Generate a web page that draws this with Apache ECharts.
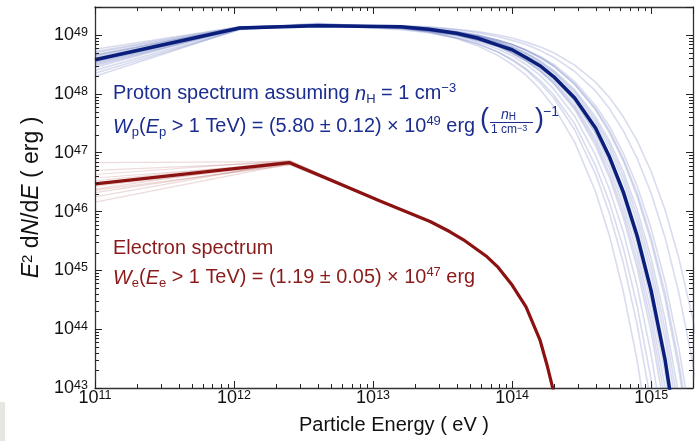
<!DOCTYPE html>
<html><head><meta charset="utf-8">
<script src="https://cdn.jsdelivr.net/npm/echarts@6/dist/echarts.min.js"></script>
<style>html,body{margin:0;padding:0;background:#fff}#c{width:700px;height:441px}</style>
</head><body><div id="c"></div>
<script>
// ---------- data (log10 values) ----------
const xMajorTicks = [1e11, 1e12, 1e13, 1e14, 1e15];
const yMajorTicks = [1e43, 1e44, 1e45, 1e46, 1e47, 1e48, 1e49];
const xMinorTicks = [2e11,3e11,4e11,5e11,6e11,7e11,8e11,9e11,2e12,3e12,4e12,5e12,6e12,7e12,8e12,9e12,2e13,3e13,4e13,5e13,6e13,7e13,8e13,9e13,2e14,3e14,4e14,5e14,6e14,7e14,8e14,9e14];
const yMinorTicks = [2e43,3e43,4e43,5e43,6e43,7e43,8e43,9e43,2e44,3e44,4e44,5e44,6e44,7e44,8e44,9e44,2e45,3e45,4e45,5e45,6e45,7e45,8e45,9e45,2e46,3e46,4e46,5e46,6e46,7e46,8e46,9e46,2e47,3e47,4e47,5e47,6e47,7e47,8e47,9e47,2e48,3e48,4e48,5e48,6e48,7e48,8e48,9e48];

// proton: log10(E/eV) grid and log10(E^2 dN/dE / erg)
const protonLogE = [11.0, 12.04, 12.6, 13.2, 13.4, 13.6, 13.75, 13.9, 14.0, 14.1, 14.2, 14.3, 14.45, 14.6, 14.7, 14.8, 14.9, 15.0, 15.1, 15.2, 15.3, 15.4];
const protonBest    = [48.58, 49.12, 49.16, 49.14, 49.10, 49.03, 48.95, 48.83, 48.75, 48.62, 48.48, 48.29, 47.93, 47.42, 46.93, 46.33, 45.58, 44.65, 43.48, 41.95];
const protonSampleA = [48.45, 49.12, 49.20, 49.115, 49.05, 48.94, 48.82, 48.65, 48.50, 48.32, 48.08, 47.78, 47.18, 46.34, 45.59, 44.64, 43.46, 41.96];
const protonSampleB = [48.70, 49.13, 49.17, 49.09, 49.04, 48.95, 48.85, 48.71, 48.59, 48.43, 48.23, 47.98, 47.49, 46.78, 46.16, 45.38, 44.39, 43.14, 41.58];
const protonSampleC = [48.30, 49.10, 49.19, 49.14, 49.09, 49.01, 48.92, 48.80, 48.69, 48.56, 48.39, 48.17, 47.74, 47.12, 46.58, 45.90, 45.04, 43.95, 42.59];
const protonSampleD = [48.62, 49.11, 49.17, 49.12, 49.08, 49.00, 48.92, 48.81, 48.71, 48.58, 48.42, 48.22, 47.81, 47.24, 46.74, 46.10, 45.30, 44.28, 43.01, 41.41];
const protonSampleE = [48.52, 49.12, 49.18, 49.14, 49.10, 49.04, 48.97, 48.87, 48.78, 48.67, 48.53, 48.36, 48.00, 47.51, 47.07, 46.51, 45.81, 44.93, 43.83, 42.43];
const protonSampleF = [48.76, 49.14, 49.17, 49.14, 49.10, 49.04, 48.98, 48.88, 48.80, 48.70, 48.57, 48.40, 48.07, 47.61, 47.20, 46.68, 46.03, 45.21, 44.17, 42.87, 41.23];
const protonSampleG = [48.40, 49.10, 49.16, 49.13, 49.10, 49.05, 48.99, 48.91, 48.84, 48.75, 48.64, 48.50, 48.21, 47.80, 47.45, 46.99, 46.43, 45.71, 44.81, 43.67, 42.24];
const protonSampleH = [48.66, 49.13, 49.17, 49.15, 49.13, 49.09, 49.04, 48.97, 48.91, 48.84, 48.74, 48.62, 48.38, 48.05, 47.75, 47.37, 46.90, 46.31, 45.56, 44.61, 43.42, 41.93];
const protonSampleI = [48.55, 49.12, 49.17, 49.16, 49.14, 49.10, 49.06, 49.00, 48.95, 48.88, 48.80, 48.70, 48.49, 48.20, 47.94, 47.61, 47.20, 46.68, 46.03, 45.20, 44.17, 42.86];
const protonSampleJ = [48.35, 49.09, 49.18, 49.12, 49.06, 48.96, 48.86, 48.71, 48.57, 48.41, 48.19, 47.93, 47.39, 46.64, 45.97, 45.13, 44.07, 42.74];
const protonSampleK = [48.48, 49.11, 49.18, 49.15, 49.12, 49.06, 49.00, 48.91, 48.84, 48.74, 48.62, 48.47, 48.16, 47.73, 47.34, 46.86, 46.25, 45.48, 44.52, 43.30, 41.77];
const protonSampleL = [48.72, 49.14, 49.16, 49.11, 49.06, 49.00, 48.92, 48.82, 48.72, 48.60, 48.45, 48.27, 47.89, 47.35, 46.88, 46.29, 45.54, 44.59, 43.41, 41.91];
const protonSampleM = [48.60, 49.12, 49.18, 49.12, 49.07, 48.99, 48.89, 48.76, 48.65, 48.50, 48.32, 48.08, 47.62, 46.96, 46.38, 45.65, 44.73, 43.57, 42.11];
const protonSampleN = [48.50, 49.11, 49.17, 49.12, 49.07, 49.00, 48.91, 48.80, 48.69, 48.56, 48.39, 48.19, 47.77, 47.18, 46.65, 45.99, 45.16, 44.11, 42.80];
const protonSampleO = [48.66, 49.13, 49.17, 49.13, 49.09, 49.02, 48.94, 48.83, 48.74, 48.61, 48.46, 48.26, 47.87, 47.32, 46.83, 46.22, 45.44, 44.46, 43.24, 41.69];
const protonSampleQ = [48.54, 49.12, 49.17, 49.13, 49.09, 49.02, 48.95, 48.85, 48.76, 48.64, 48.50, 48.32, 47.95, 47.44, 46.98, 46.40, 45.68, 44.77, 43.62, 42.18];
const protonSampleR = [48.64, 49.13, 49.18, 49.14, 49.11, 49.05, 48.98, 48.88, 48.80, 48.69, 48.55, 48.38, 48.04, 47.56, 47.14, 46.60, 45.92, 45.07, 44.00, 42.65];
const protonSampleS = [48.57, 49.12, 49.17, 49.14, 49.11, 49.06, 49.00, 48.91, 48.84, 48.74, 48.62, 48.47, 48.17, 47.75, 47.38, 46.90, 46.31, 45.56, 44.62, 43.43, 41.93];

// electron
const electronLogE = [11.0, 12.40, 12.69, 13.05, 13.41, 13.55, 13.65, 13.82, 13.9, 14.0, 14.1, 14.2, 14.25, 14.29, 14.35];
const electronBest = [46.47, 46.83, 46.54, 46.18, 45.83, 45.66, 45.52, 45.23, 45.05, 44.75, 44.38, 43.82, 43.40, 43.02, 42.40];
const electronSampleLogE = [11.0, 12.40, 12.69, 13.05];
const electronSampleA = [46.16, 46.81, 46.53, 46.17];
const electronSampleB = [46.25, 46.84, 46.55, 46.19];
const electronSampleC = [46.32, 46.82, 46.54, 46.18];
const electronSampleD = [46.38, 46.86, 46.56, 46.19];
const electronSampleE = [46.43, 46.80, 46.53, 46.17];
const electronSampleF = [46.52, 46.85, 46.55, 46.19];
const electronSampleG = [46.57, 46.82, 46.54, 46.17];
const electronSampleH = [46.63, 46.87, 46.56, 46.19];
const electronSampleI = [46.70, 46.84, 46.55, 46.18];
const electronSampleJ = [46.83, 46.85, 46.54, 46.18];
const electronSampleK = [46.36, 46.79, 46.52, 46.17];
const electronSampleL = [46.45, 46.83, 46.54, 46.18];

// ---------- chart ----------
const FONT = "'Liberation Sans', Arial, Helvetica, sans-serif";
const P_LINE = '#0a1f7c';
const E_LINE = '#8c1212';
const P_TEXT = '#1b2d8e';
const E_TEXT = '#8b1a1a';
const AX = '#333';
const TICK = '#222';

const toPairs = (xs, ys) => ys.map((y, i) => [Math.pow(10, xs[i]), Math.pow(10, y)]);

const protonSamples = [protonSampleA, protonSampleB, protonSampleC, protonSampleD, protonSampleE, protonSampleF,
  protonSampleG, protonSampleH, protonSampleI, protonSampleJ, protonSampleK, protonSampleL,
  protonSampleM, protonSampleN, protonSampleO, protonSampleQ, protonSampleR, protonSampleS];
const electronSamples = [electronSampleA, electronSampleB, electronSampleC, electronSampleD, electronSampleE, electronSampleF,
  electronSampleG, electronSampleH, electronSampleI, electronSampleJ, electronSampleK, electronSampleL];

const labelRich = {
  b: {fontSize: 18, lineHeight: 18, fontFamily: FONT, color: '#111'},
  s: {fontSize: 12.5, lineHeight: 6, verticalAlign: 'top', fontFamily: FONT, color: '#111'}
};
const powFmt = v => '{b|10}{s|' + Math.round(Math.log10(v)) + '}';

const X_MIN = 1e11, X_MAX = 2e15, Y_MIN = 1e43, Y_MAX = 3e49;

function dataX(pos, withLabel) {
  return {
    type: 'log', logBase: 10, gridIndex: 0, position: pos, min: X_MIN, max: X_MAX, splitNumber: 5,
    axisLine: {show: true, lineStyle: {color: AX, width: 1.3}},
    axisTick: {show: true, inside: true, length: 7, lineStyle: {color: TICK, width: 1}},
    axisLabel: withLabel ? {show: true, customValues: xMajorTicks, formatter: powFmt, rich: labelRich, margin: 1} : {show: false},
    splitLine: {show: false}, minorTick: {show: false}
  };
}
function dataY(pos, withLabel) {
  return {
    type: 'log', logBase: 10, gridIndex: 0, position: pos, min: Y_MIN, max: Y_MAX, splitNumber: 6,
    axisLine: {show: true, lineStyle: {color: AX, width: 1.3}},
    axisTick: {show: true, inside: true, length: 7, lineStyle: {color: TICK, width: 1}},
    axisLabel: withLabel ? {show: true, customValues: yMajorTicks, formatter: powFmt, rich: labelRich, margin: 7} : {show: false},
    splitLine: {show: false}, minorTick: {show: false}
  };
}

// minor tick marks placed through the axes' own scales
function minorTickSeries(values, dir, side) {
  return {
    type: 'custom', xAxisIndex: 0, yAxisIndex: 0, silent: true, z: 10, clip: false,
    data: values.map(v => dir === 'x' ? [v, side === 'min' ? Y_MIN : Y_MAX] : [side === 'min' ? X_MIN : X_MAX, v]),
    renderItem: (params, api) => {
      const p = api.coord([api.value(0), api.value(1)]);
      let x1 = p[0], y1 = p[1];
      if (dir === 'x') x1 = Math.round(x1) + 0.5; else y1 = Math.round(y1) + 0.5;
      let x2 = x1, y2 = y1;
      if (dir === 'x') y2 += side === 'min' ? -4 : 4; else x2 += side === 'min' ? 4 : -4;
      return {type: 'line', shape: {x1, y1, x2, y2}, style: {stroke: TICK, lineWidth: 1}};
    }
  };
}

const xBottom = dataX('bottom', true);
xBottom.name = 'Particle Energy ( eV )';
xBottom.nameLocation = 'middle';
xBottom.nameGap = 27;
xBottom.nameTextStyle = {fontSize: 20, fontFamily: FONT, color: '#111'};

const yLeft = dataY('left', true);
yLeft.name = '{i|E}{sp|2} d{i|N}/d{i|E} ( erg )';
yLeft.nameLocation = 'middle';
yLeft.nameGap = 48;
yLeft.nameTextStyle = {
  fontSize: 23, fontFamily: FONT, color: '#111',
  rich: {
    i: {fontSize: 23, fontStyle: 'italic', fontFamily: FONT, color: '#111'},
    sp: {fontSize: 15, lineHeight: 8, verticalAlign: 'top', fontFamily: FONT, color: '#111'}
  }
};

const series = [];
protonSamples.forEach(s => series.push({
  type: 'line', xAxisIndex: 0, yAxisIndex: 0, data: toPairs(protonLogE, s), symbol: 'none', clip: true,
  lineStyle: {color: 'rgba(60,80,170,0.2)', width: 1.6}, z: 2, silent: true
}));
electronSamples.forEach(s => series.push({
  type: 'line', xAxisIndex: 0, yAxisIndex: 0, data: toPairs(electronSampleLogE, s), symbol: 'none', clip: true,
  lineStyle: {color: 'rgba(150,30,30,0.16)', width: 1.2}, z: 2, silent: true
}));
series.push({
  type: 'line', name: 'Proton', xAxisIndex: 0, yAxisIndex: 0, data: toPairs(protonLogE, protonBest), symbol: 'none', clip: true,
  lineStyle: {color: P_LINE, width: 3.5}, z: 5, silent: true
});
series.push({
  type: 'line', name: 'Electron', xAxisIndex: 0, yAxisIndex: 0, data: toPairs(electronLogE, electronBest), symbol: 'none', clip: true,
  lineStyle: {color: E_LINE, width: 3.2}, z: 5, silent: true
});
series.push(minorTickSeries(xMinorTicks, 'x', 'min'));
series.push(minorTickSeries(xMinorTicks, 'x', 'max'));
series.push(minorTickSeries(yMinorTicks, 'y', 'min'));
series.push(minorTickSeries(yMinorTicks, 'y', 'max'));

const T = 19.9;
const richText = (color) => ({
  i: {fontSize: T, fontStyle: 'italic', fontFamily: FONT, fill: color, lineHeight: 24},
  sub: {fontSize: 13, fontFamily: FONT, fill: color, lineHeight: 12, verticalAlign: 'bottom'},
  sup: {fontSize: 13, fontFamily: FONT, fill: color, lineHeight: 8, verticalAlign: 'top'}
});
const txt = (x, y, text, color) => ({
  type: 'text', left: x, top: y, z: 20, silent: true,
  style: {text, fontSize: T, fontFamily: FONT, fill: color, rich: richText(color), lineHeight: 24}
});

const option = {
  animation: false,
  backgroundColor: '#ffffff',
  grid: [{left: 95, right: 7, top: 7, bottom: 53}],
  xAxis: [xBottom, dataX('top', false)],
  yAxis: [yLeft, dataY('right', false)],
  series,
  graphic: [
    {type: 'rect', left: 0, top: 402, shape: {width: 5, height: 39}, style: {fill: '#e6e6e2'}, silent: true},
    txt(113, 82, 'Proton spectrum assuming {i|n}{sub|H} = 1 cm{sup|−3}', P_TEXT),
    txt(113, 115, '{i|W}{sub|p}({i|E}{sub|p} > 1 TeV) = (5.80 ± 0.12) × 10{sup|49} erg', P_TEXT),
    {type: 'text', left: 480, top: 106, z: 20, silent: true, style: {text: '(', fontSize: 27, fontFamily: FONT, fill: P_TEXT}},
    {type: 'text', left: 501, top: 108, z: 20, silent: true, style: {text: '{i|n}{s|H}', fontSize: 13, fontFamily: FONT, fill: P_TEXT,
      rich: {i: {fontSize: 14, fontStyle: 'italic', fontFamily: FONT, fill: P_TEXT, lineHeight: 14}, s: {fontSize: 10, fontFamily: FONT, fill: P_TEXT, lineHeight: 8, verticalAlign: 'bottom'}}}},
    {type: 'line', z: 20, silent: true, shape: {x1: 490, y1: 122.5, x2: 533, y2: 122.5}, style: {stroke: P_TEXT, lineWidth: 1}},
    {type: 'text', left: 491, top: 124, z: 20, silent: true, style: {text: '1 cm{s|−3}', fontSize: 12, fontFamily: FONT, fill: P_TEXT,
      rich: {s: {fontSize: 9, fontFamily: FONT, fill: P_TEXT, lineHeight: 6, verticalAlign: 'top'}}}},
    {type: 'text', left: 535, top: 106, z: 20, silent: true, style: {text: ')', fontSize: 27, fontFamily: FONT, fill: P_TEXT}},
    {type: 'text', left: 543, top: 105, z: 20, silent: true, style: {text: '−1', fontSize: 14, fontFamily: FONT, fill: P_TEXT}},
    txt(113, 237, 'Electron spectrum', E_TEXT),
    txt(113, 266, '{i|W}{sub|e}({i|E}{sub|e} > 1 TeV) = (1.19 ± 0.05) × 10{sup|47} erg', E_TEXT)
  ]
};

const chart = echarts.init(document.getElementById('c'), null, {renderer: 'canvas'});
chart.setOption(option);
</script>
</body></html>
